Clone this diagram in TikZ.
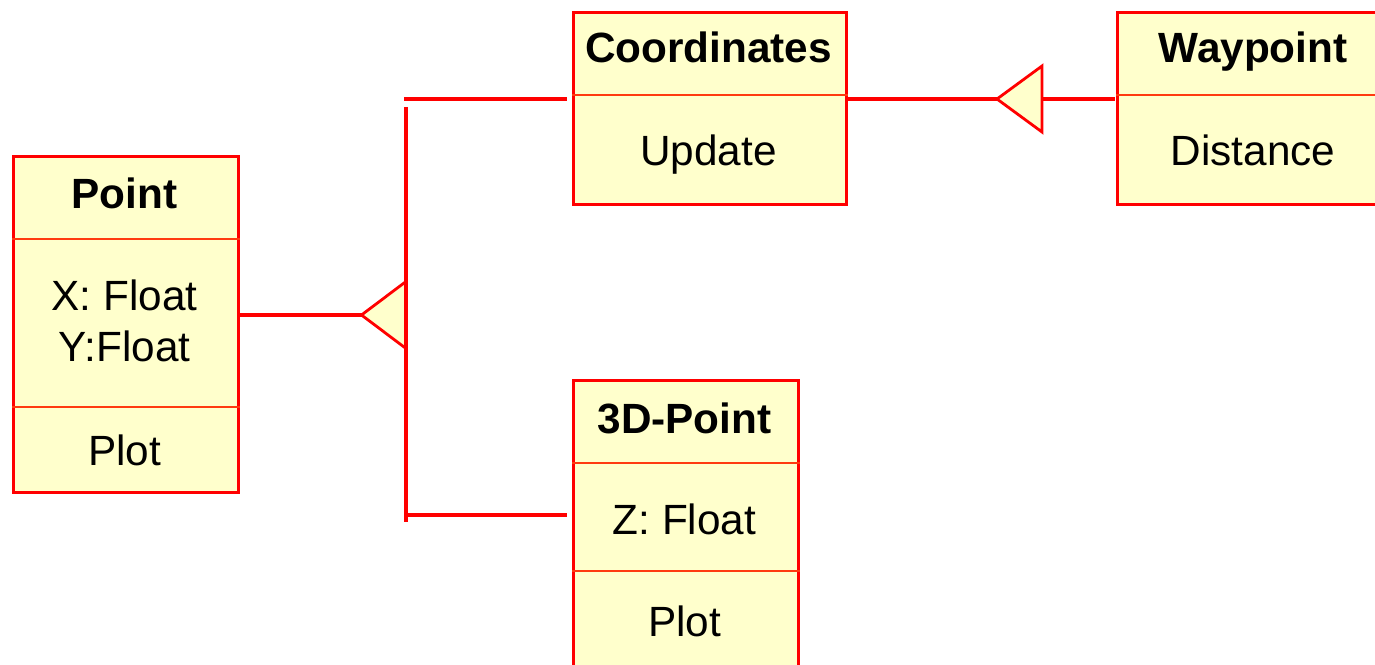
\documentclass[tikz,border=0pt]{standalone}
\usepackage{fontspec}
\setmainfont{Liberation Sans}
\usetikzlibrary{calc}
\definecolor{umlred}{HTML}{FF0000}
\definecolor{umlsep}{HTML}{FF3A10}
\definecolor{umlfill}{HTML}{FFFFCC}
\begin{document}
\begin{tikzpicture}[x=1bp,y=-1bp,
  classbox/.style={draw=umlred, fill=umlfill, line width=2.6bp, rectangle, anchor=north west, inner sep=0pt},
  compline/.style={draw=umlsep, line width=2.4bp},
  link/.style={draw=umlred, line width=3.3bp},
  gentri/.style={draw=umlred, fill=umlfill, line width=2.8bp, line join=miter},
  tribase/.style={draw=umlred, line width=4.2bp},
  txt/.style={anchor=base, inner sep=0pt, font=\fontsize{42.3bp}{51bp}\selectfont},
  classname/.style={txt, font=\fontsize{42.3bp}{51bp}\selectfont\bfseries}]
\useasboundingbox (0,0) rectangle (1375,665);
\clip (0,0) rectangle (1375,665);

% class boxes
\node[classbox, minimum width=225bp, minimum height=336bp] (point) at (12,155) {};
\node[classbox, minimum width=273bp, minimum height=192bp] (coords) at (572,11) {};
\node[classbox, minimum width=274bp, minimum height=192bp] (waypoint) at (1116,11) {};
\node[classbox, minimum width=225bp, minimum height=310bp] (point3d) at (572,379) {};

% compartment separators
\draw[compline] (point.west |- 0,239) -- (point.east |- 0,239);
\draw[compline] (point.west |- 0,407) -- (point.east |- 0,407);
\draw[compline] (coords.west |- 0,95) -- (coords.east |- 0,95);
\draw[compline] (waypoint.west |- 0,95) -- (waypoint.east |- 0,95);
\draw[compline] (point3d.west |- 0,463) -- (point3d.east |- 0,463);
\draw[compline] (point3d.west |- 0,571) -- (point3d.east |- 0,571);

% class texts
\node[classname] (point-name) at (124.5,208) {Point};
\node[txt] (point-x) at (124.5,310) {X: Float};
\node[txt] (point-y) at (124.5,361) {Y:Float};
\node[txt] (point-op) at (124.5,465) {Plot};

\node[classname] (coords-name) at (708.5,63) {Coordinates};
\node[txt] (coords-op) at (708.5,165) {Update};

\node[classname] (waypoint-name) at (1253,63) {Waypoint};
\node[txt] (waypoint-op) at (1253,165) {Distance};

\node[classname] (point3d-name) at (684.5,433) {3D-Point};
\node[txt] (point3d-z) at (684.5,534) {Z: Float};
\node[txt] (point3d-op) at (684.5,636) {Plot};

% generalization: Coordinates and 3D-Point specialise Point
\coordinate (pt-tip) at (361.5,315);
\coordinate (pt-base) at (406,315);
\coordinate (bus-top) at (406,107);
\coordinate (bus-bot) at (406,522);
\coordinate (coords-join) at (567,99);
\coordinate (point3d-join) at (567,515);

\draw[link] (point.east |- pt-tip) -- (pt-tip);
\draw[link] (bus-top) -- (bus-bot);
\draw[gentri] (pt-tip) -- ($(pt-base)+(0,-33.5)$) -- ($(pt-base)+(0,33.5)$) -- cycle;
\draw[tribase] ($(pt-base)+(0,-35)$) -- ($(pt-base)+(0,35)$);
\draw[link] ([xshift=-1.6bp]bus-top |- coords-join) -- (coords-join);
\draw[link] (bus-bot |- point3d-join) -- (point3d-join);

% generalization: Waypoint specialises Coordinates
\coordinate (wp-tip) at (997,99);
\coordinate (wp-base) at (1042,99);
\draw[link] (coords.east |- wp-tip) -- (wp-tip);
\draw[gentri] (wp-tip) -- ($(wp-base)+(0,-33)$) -- ($(wp-base)+(0,33)$) -- cycle;
\draw[link] (wp-base) -- ([xshift=-1bp]waypoint.west |- wp-base);
\end{tikzpicture}
\end{document}
